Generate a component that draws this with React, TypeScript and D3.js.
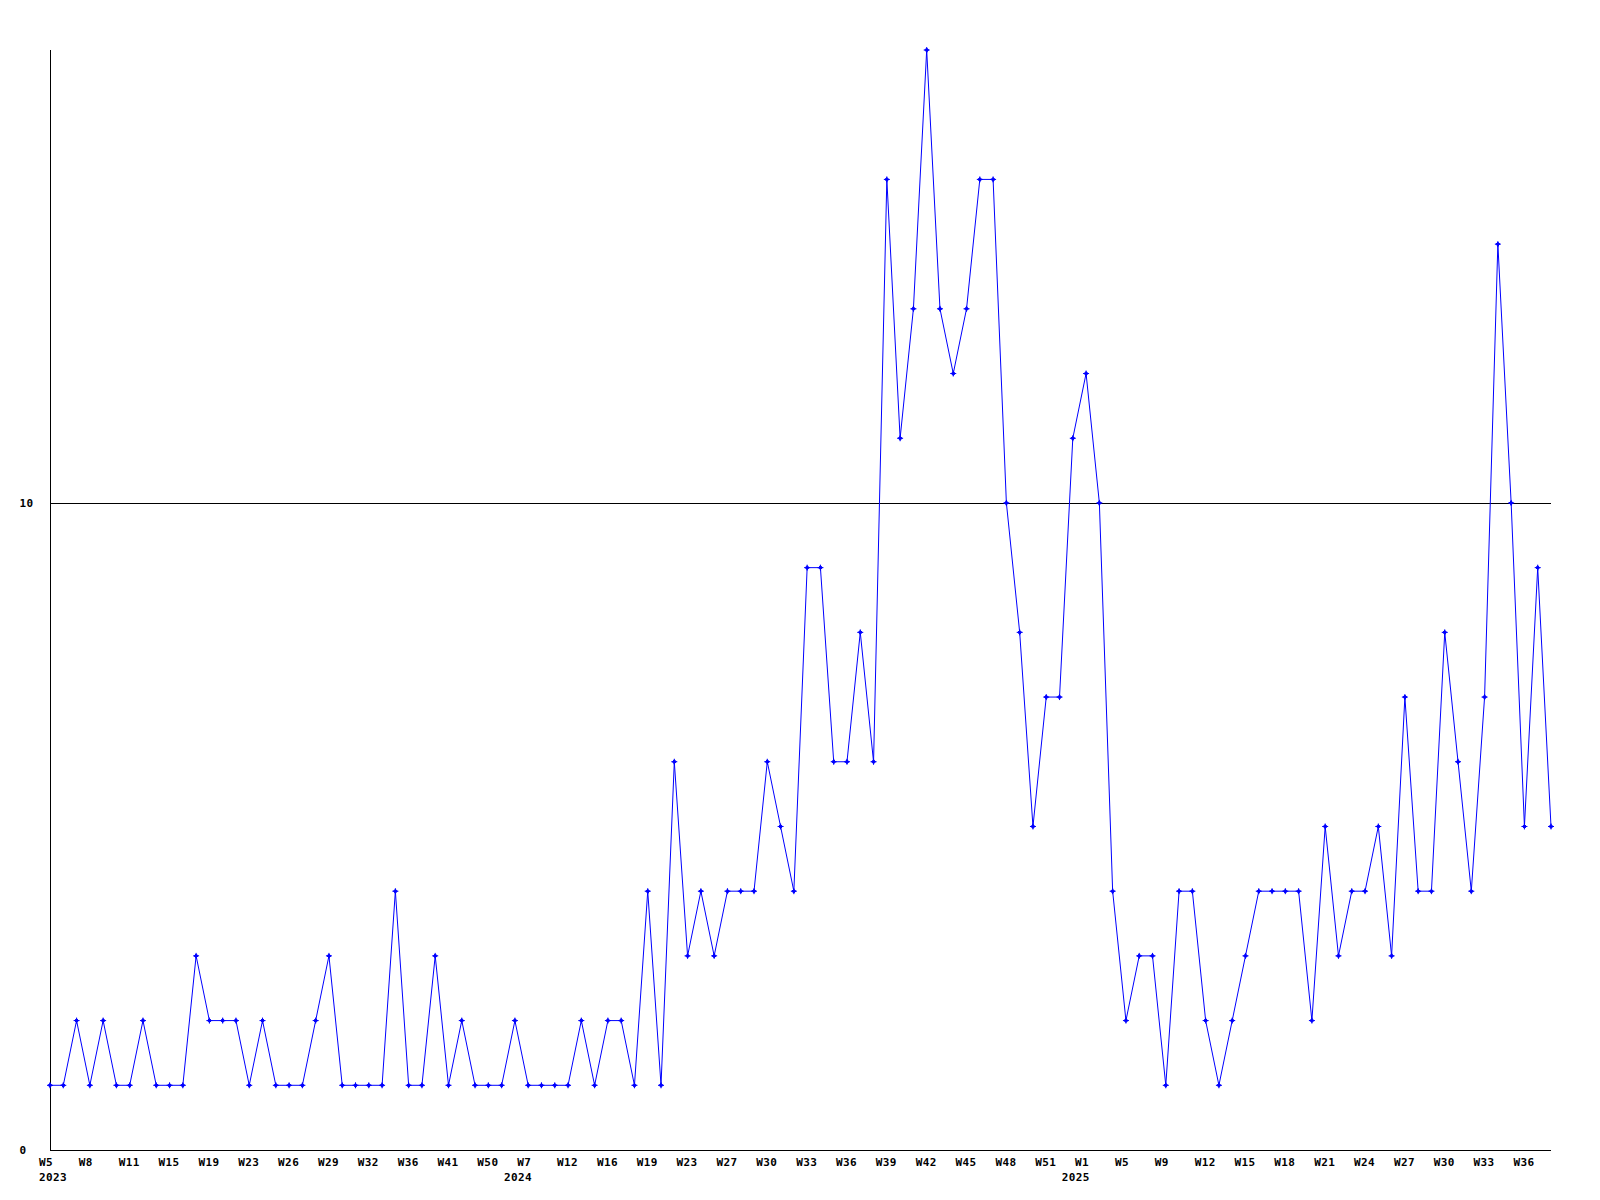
import React from "react";
import * as d3 from "d3";

// Weekly counts, one per plotted week (114 points)
const values: number[] = [
  1, 1, 2, 1, 2, 1, 1, 2, 1, 1,
  1, 3, 2, 2, 2, 1, 2, 1, 1, 1,
  2, 3, 1, 1, 1, 1, 4, 1, 1, 3,
  1, 2, 1, 1, 1, 2, 1, 1, 1, 1,
  2, 1, 2, 2, 1, 4, 1, 6, 3, 4,
  3, 4, 4, 4, 6, 5, 4, 9, 9, 6,
  6, 8, 6, 15, 11, 13, 17, 13, 12, 13,
  15, 15, 10, 8, 5, 7, 7, 11, 12, 10,
  4, 2, 3, 3, 1, 4, 4, 2, 1, 2,
  3, 4, 4, 4, 4, 2, 5, 3, 4, 4,
  5, 3, 7, 4, 4, 8, 6, 4, 7, 14,
  10, 5, 9, 5,
];

// Week labels shown every third point
const weekTickLabels: string[] = [
  "W5", "W8", "W11", "W15", "W19", "W23", "W26", "W29", "W32", "W36",
  "W41", "W50", "W7", "W12", "W16", "W19", "W23", "W27", "W30", "W33",
  "W36", "W39", "W42", "W45", "W48", "W51", "W1", "W5", "W9", "W12",
  "W15", "W18", "W21", "W24", "W27", "W30", "W33", "W36",
];
const tickStep = 3;

const yearLabels: string[] = ["2023", "2024", "2025"];
const yearStartIndex: number[] = [0, 35, 77];

const yTicks: number[] = [0, 10];
const yMax = 17;

const W = 1600;
const H = 1200;
const left = 50;
const right = 1551;
const top = 50;
const bottom = 1150;

const font = "'DejaVu Sans Mono', 'Liberation Mono', monospace";

export default function App() {
  const x = d3.scaleLinear().domain([0, values.length - 1]).range([left, right]);
  const y = d3.scaleLinear().domain([0, yMax]).range([bottom, top]);
  const line = d3
    .line<number>()
    .x((_, i) => x(i))
    .y((d) => y(d));

  const markerPath = "M-3,0L3,0M0,-3L0,3M0,-2L2,0L0,2L-2,0Z";

  const textProps = {
    fontFamily: font,
    fontWeight: "bold" as const,
    fontSize: 11,
    letterSpacing: 0.4,
    fill: "#000",
  };

  return (
    <svg
      width={W}
      height={H}
      style={{ position: "absolute", left: 0, top: 0, display: "block", background: "#fff" }}
    >
      <rect x={0} y={0} width={W} height={H} fill="#fff" />
      {/* grid lines */}
      {yTicks
        .filter((t) => t > 0)
        .map((t) => (
          <line
            key={"g" + t}
            x1={left}
            x2={right}
            y1={Math.round(y(t)) + 0.5}
            y2={Math.round(y(t)) + 0.5}
            stroke="#000"
            strokeWidth={1}
            shapeRendering="crispEdges"
          />
        ))}
      {/* axes */}
      <line x1={left + 0.5} x2={left + 0.5} y1={top} y2={bottom} stroke="#000" shapeRendering="crispEdges" />
      <line x1={left} x2={right} y1={bottom + 0.5} y2={bottom + 0.5} stroke="#000" shapeRendering="crispEdges" />
      {/* y labels */}
      {yTicks.map((t) => (
        <text key={"y" + t} x={19.5} y={Math.round(y(t)) + 4} {...textProps}>
          {t}
        </text>
      ))}
      {/* x week labels */}
      {weekTickLabels.map((lab, k) => (
        <text key={"w" + k} x={x(k * tickStep) - 11} y={1166} {...textProps}>
          {lab}
        </text>
      ))}
      {/* year labels */}
      {yearLabels.map((lab, k) => (
        <text key={"yr" + k} x={x(yearStartIndex[k]) - 11} y={1181} {...textProps}>
          {lab}
        </text>
      ))}
      {/* data line */}
      <path d={line(values) || ""} fill="none" stroke="#0000ff" strokeWidth={1} />
      {/* markers */}
      {values.map((v, i) => (
        <path
          key={"m" + i}
          transform={`translate(${x(i)},${y(v)})`}
          d={markerPath}
          fill="#0000ff"
          stroke="#0000ff"
          strokeWidth={1}
        />
      ))}
    </svg>
  );
}
